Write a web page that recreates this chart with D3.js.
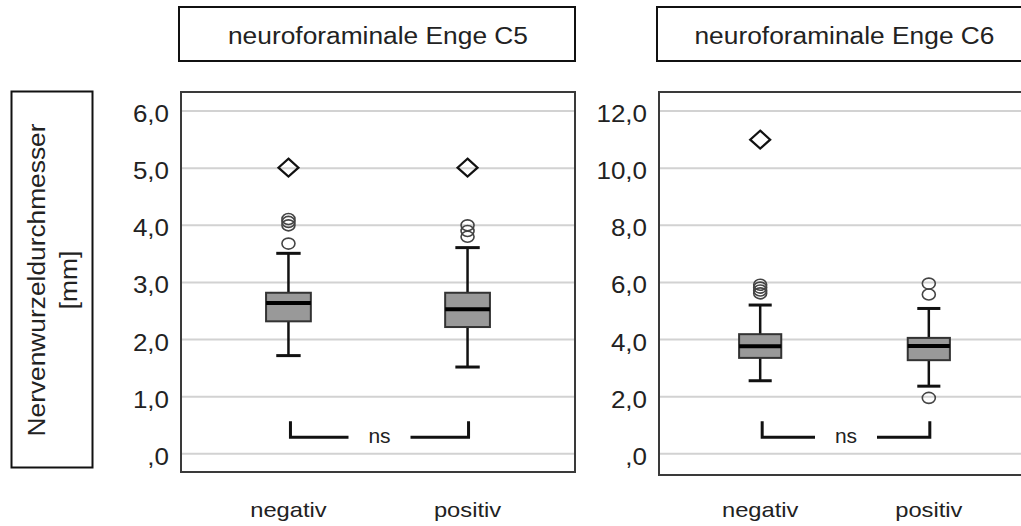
<!DOCTYPE html>
<html>
<head>
  <meta charset="utf-8">
  <title>Nervenwurzeldurchmesser</title>
  <style>
    body { margin: 0; background: #fff; }
    svg { display: block; font-family: "Liberation Sans", Arial, sans-serif; }
    text { fill: #222; }
  </style>
</head>
<body>
  <div id="chart"></div>

  <script src="https://d3js.org/d3.v7.min.js"></script>
  <script>
    // data
    const categories = ["negativ", "positiv"];
    const panelTitles = ["neuroforaminale Enge C5", "neuroforaminale Enge C6"];
    const yLabel = ["Nervenwurzeldurchmesser", "[mm]"];

    const c5Ticks = [0, 1, 2, 3, 4, 5, 6];
    const c5Low = [1.71, 1.51];
    const c5Q1 = [2.31, 2.21];
    const c5Median = [2.63, 2.52];
    const c5Q3 = [2.81, 2.81];
    const c5High = [3.5, 3.6];
    const c5Outliers = [[3.67, 3.99, 4.05, 4.1], [3.79, 3.89, 3.99]];
    const c5Extremes = [[5.0], [5.0]];

    const c6Ticks = [0, 2, 4, 6, 8, 10, 12];
    const c6Low = [2.54, 2.35];
    const c6Q1 = [3.34, 3.26];
    const c6Median = [3.75, 3.76];
    const c6Q3 = [4.17, 4.04];
    const c6High = [5.19, 5.07];
    const c6Outliers = [[5.6, 5.7, 5.8, 5.9], [1.94, 5.56, 5.94]];
    const c6Extremes = [[10.98], []];

    const significance = ["ns", "ns"];

    const W = 1021, H = 526;
    const SX = 1.13; // picture is stretched sideways a bit

    const svg = d3.select("#chart").append("svg")
      .attr("width", W)
      .attr("height", H);

    const fmt = d => d === 0 ? ",0" : d3.format(".1f")(d).replace(".", ",");

    // y axis title box
    svg.append("rect")
      .attr("x", 11.5).attr("y", 91.5)
      .attr("width", 81).attr("height", 376)
      .attr("fill", "none").attr("stroke", "#111").attr("stroke-width", 2);

    const yl = svg.append("g")
      .attr("transform", "translate(52,280) rotate(-90)");
    yl.append("text")
      .attr("transform", "translate(0,-7) scale(1.12,1)")
      .attr("text-anchor", "middle")
      .style("font-size", "23.5px")
      .text(yLabel[0]);
    yl.append("text")
      .attr("transform", "translate(0,25) scale(1.12,1)")
      .attr("text-anchor", "middle")
      .style("font-size", "23.5px")
      .text(yLabel[1]);

    const panels = [
      { title: panelTitles[0], left: 181, right: 575, bottom: 472, ticks: c5Ticks,
        low: c5Low, q1: c5Q1, med: c5Median, q3: c5Q3, high: c5High,
        outl: c5Outliers, ext: c5Extremes, sig: significance[0] },
      { title: panelTitles[1], left: 659, right: 1030, bottom: 475, ticks: c6Ticks,
        low: c6Low, q1: c6Q1, med: c6Median, q3: c6Q3, high: c6High,
        outl: c6Outliers, ext: c6Extremes, sig: significance[1] }
    ];

    const frameTop = 92;

    panels.forEach(p => {
      const w = p.right - p.left;

      // title box
      svg.append("rect")
        .attr("x", p.left - 2).attr("y", 7)
        .attr("width", w + 2).attr("height", 54)
        .attr("fill", "none").attr("stroke", "#111").attr("stroke-width", 2);
      svg.append("text")
        .attr("transform", `translate(${p.left + w / 2},44) scale(${SX},1)`)
        .attr("text-anchor", "middle")
        .style("font-size", "23.3px")
        .text(p.title);

      const g = svg.append("g").attr("transform", `translate(${p.left},0)`);

      const x = d3.scalePoint()
        .domain(categories)
        .range([0, w])
        .padding(0.6);

      const y = d3.scaleLinear()
        .domain([0, d3.max(p.ticks)])
        .range([453.3, 110.5]);

      // gridlines
      g.append("g")
        .call(d3.axisLeft(y).tickValues(p.ticks).tickSize(-w).tickFormat(""))
        .call(a => a.select(".domain").remove())
        .call(a => a.selectAll("line").attr("stroke", "#d2d2d2").attr("stroke-width", 2));

      // tick labels
      g.append("g")
        .call(d3.axisLeft(y).tickValues(p.ticks).tickSize(0).tickFormat(fmt))
        .call(a => a.select(".domain").remove())
        .call(a => a.selectAll("text")
          .attr("x", 0)
          .attr("dy", "0.35em")
          .attr("transform", `translate(-12,3) scale(${SX},1)`)
          .style("font-size", "23px")
          .style("font-family", "'Liberation Sans', Arial, sans-serif")
          .attr("fill", "#333"));

      // frame
      g.append("rect")
        .attr("x", 0).attr("y", frameTop)
        .attr("width", w).attr("height", p.bottom - frameTop)
        .attr("fill", "none").attr("stroke", "#3a3a3a").attr("stroke-width", 2);

      const bw = x.step() * 0.25;

      categories.forEach((c, i) => {
        const cx = x(c);
        // whiskers
        g.append("line")
          .attr("x1", cx).attr("x2", cx)
          .attr("y1", y(p.high[i])).attr("y2", y(p.q3[i]))
          .attr("stroke", "#111").attr("stroke-width", 2.5);
        g.append("line")
          .attr("x1", cx).attr("x2", cx)
          .attr("y1", y(p.q1[i])).attr("y2", y(p.low[i]))
          .attr("stroke", "#111").attr("stroke-width", 2.5);
        [p.high[i], p.low[i]].forEach(v => {
          g.append("line")
            .attr("x1", cx - bw / 4 - 1).attr("x2", cx + bw / 4 + 1)
            .attr("y1", y(v)).attr("y2", y(v))
            .attr("stroke", "#111").attr("stroke-width", 3);
        });
        // box
        g.append("rect")
          .attr("x", cx - bw / 2).attr("y", y(p.q3[i]))
          .attr("width", bw).attr("height", y(p.q1[i]) - y(p.q3[i]))
          .attr("fill", "#999").attr("stroke", "#333").attr("stroke-width", 2);
        g.append("line")
          .attr("x1", cx - bw / 2).attr("x2", cx + bw / 2)
          .attr("y1", y(p.med[i])).attr("y2", y(p.med[i]))
          .attr("stroke", "#000").attr("stroke-width", 4);
        // outliers
        p.outl[i].forEach(v => {
          g.append("ellipse")
            .attr("cx", cx).attr("cy", y(v))
            .attr("rx", 6.5).attr("ry", 5.5)
            .attr("fill", "none").attr("stroke", "#444").attr("stroke-width", 1.6);
        });
        // extremes
        p.ext[i].forEach(v => {
          const yy = y(v);
          g.append("path")
            .attr("d", `M${cx},${yy - 9}L${cx + 10},${yy}L${cx},${yy + 9}L${cx - 10},${yy}Z`)
            .attr("fill", "none").attr("stroke", "#111").attr("stroke-width", 2.2);
        });
        // category label
        svg.append("text")
          .attr("transform", `translate(${p.left + cx},517) scale(${SX},1)`)
          .attr("text-anchor", "middle")
          .style("font-size", "21px")
          .text(c);
      });

      // significance bracket
      const x0 = x(categories[0]) + 2, x1 = x(categories[1]) + 1;
      const mid = (x0 + x1) / 2;
      const yb = y(0) - 16, yt = y(0) - 32;
      g.append("path")
        .attr("d", `M${x0},${yt}V${yb}H${mid - 31}M${mid + 31},${yb}H${x1}V${yt}`)
        .attr("fill", "none").attr("stroke", "#111").attr("stroke-width", 3);
      g.append("text")
        .attr("transform", `translate(${mid},443) scale(1.05,1)`)
        .attr("text-anchor", "middle")
        .style("font-size", "20px")
        .attr("fill", "#333")
        .text(p.sig);
    });
  </script>
</body>
</html>
